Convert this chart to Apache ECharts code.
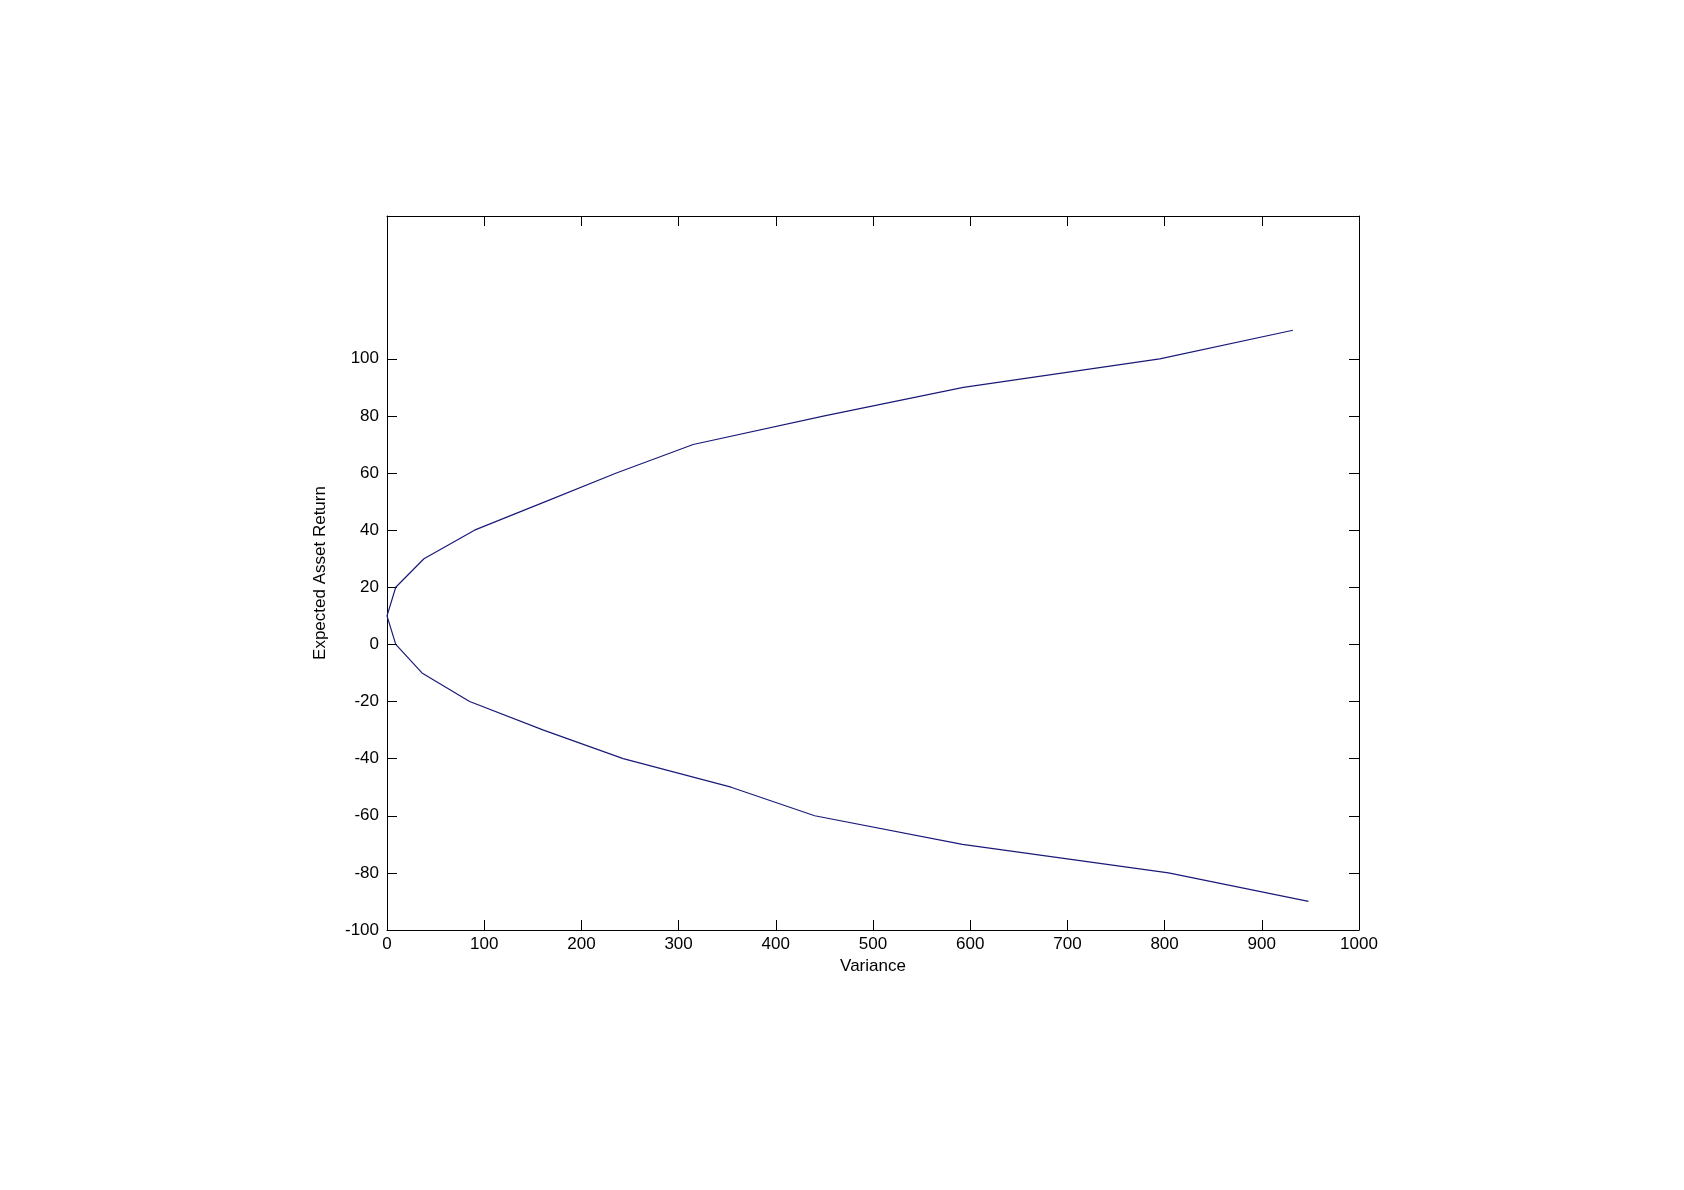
<!DOCTYPE html>
<html>
<head>
<meta charset="utf-8">
<title>Efficient frontier</title>
<script src="https://cdn.jsdelivr.net/npm/echarts@6/dist/echarts.min.js"></script>
<style>
  html, body { margin: 0; padding: 0; background: #fff; }
  #chart { width: 1684px; height: 1190px; }
</style>
</head>
<body>
<div id="chart"></div>
<script>
// values, lower branch first then upper branch
const expectedReturn = [-90, -80, -70, -60, -50, -40, -30, -20, -10, 0, 10, 20, 30, 40, 50, 60, 70, 80, 90, 100, 110];
const variance = [948, 804, 592, 440, 354, 243, 161, 85, 36, 9, 0, 9, 38, 90, 163, 236, 315, 450, 593, 795, 932];
const xTicks = [0, 100, 200, 300, 400, 500, 600, 700, 800, 900, 1000];
const yTicks = [-100, -80, -60, -40, -20, 0, 20, 40, 60, 80, 100];

const points = variance.map((v, i) => [v, expectedReturn[i]]);

const font = 'Liberation Sans, Arial, sans-serif';
const boxLine = { show: true, onZero: false, lineStyle: { color: '#000', width: 1 } };
const tick = { show: true, inside: true, length: 10, lineStyle: { color: '#000', width: 1 } };

const chart = echarts.init(document.getElementById('chart'));
chart.setOption({
  animation: false,
  backgroundColor: '#fff',
  grid: { left: 387, top: 216, right: 325, bottom: 260, containLabel: false },
  xAxis: [
    {
      type: 'value', position: 'bottom', min: 0, max: 1000, interval: 100,
      name: 'Variance', nameLocation: 'middle', nameGap: 27,
      nameTextStyle: { fontFamily: font, fontSize: 17, color: '#000' },
      axisLine: boxLine, axisTick: tick, splitLine: { show: false },
      axisLabel: {
        fontFamily: font, fontSize: 17, color: '#000', margin: 6,
        customValues: xTicks,
        formatter: v => String(v)
      }
    },
    {
      type: 'value', position: 'top', min: 0, max: 1000, interval: 100,
      axisLine: boxLine, axisTick: tick, splitLine: { show: false },
      axisLabel: { show: false }
    }
  ],
  yAxis: [
    {
      type: 'value', position: 'left', min: -100, max: 150,
      name: 'Expected Asset Return', nameLocation: 'middle', nameGap: 58, nameRotate: 90,
      nameTextStyle: { fontFamily: font, fontSize: 17, color: '#000' },
      axisLine: boxLine,
      axisTick: Object.assign({ customValues: yTicks }, tick),
      splitLine: { show: false },
      axisLabel: {
        fontFamily: font, fontSize: 17, color: '#000', margin: 8,
        customValues: yTicks,
        formatter: v => String(v)
      }
    },
    {
      type: 'value', position: 'right', min: -100, max: 150,
      axisLine: boxLine,
      axisTick: Object.assign({ customValues: yTicks }, tick),
      splitLine: { show: false },
      axisLabel: { show: false }
    }
  ],
  series: [
    {
      type: 'line',
      xAxisIndex: 0,
      yAxisIndex: 0,
      data: points,
      showSymbol: false,
      smooth: false,
      lineStyle: { color: '#1a1a78', width: 1.2 }
    }
  ]
});
</script>
</body>
</html>
